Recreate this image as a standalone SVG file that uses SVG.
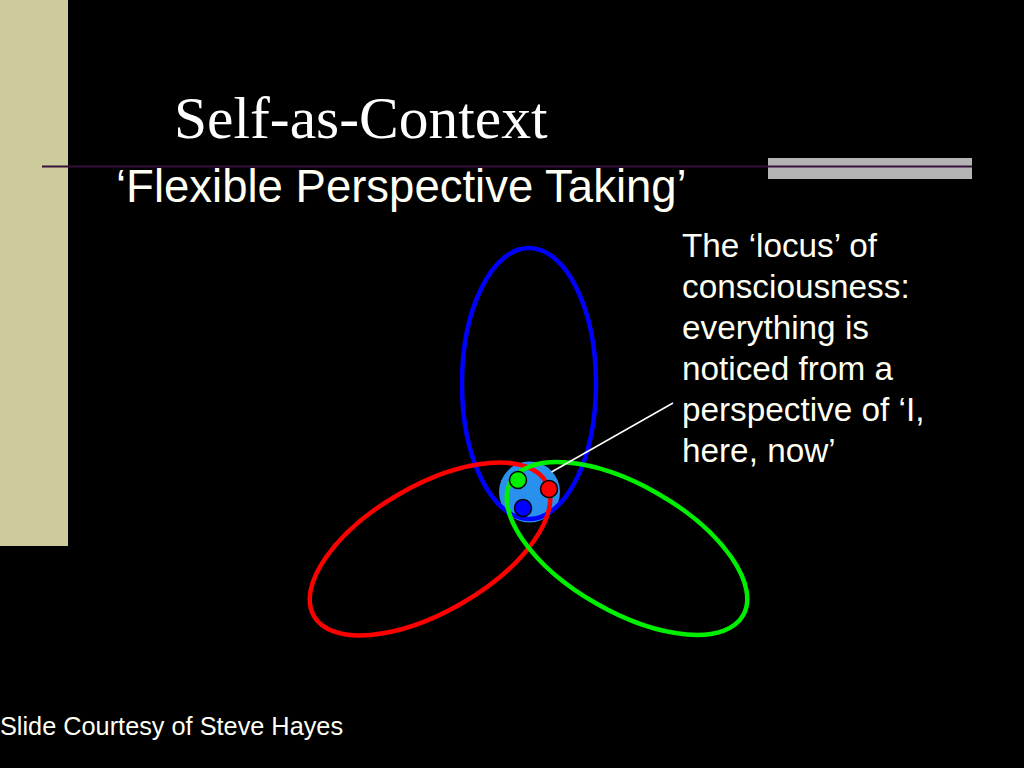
<svg xmlns="http://www.w3.org/2000/svg" width="1024" height="768" viewBox="0 0 1024 768">
<style>
.sans{font-family:"Liberation Sans",Arial,sans-serif;fill:#fffff4}
.serif{font-family:"Liberation Serif","Times New Roman",serif;fill:#ffffff}
.ell{fill:none;stroke-width:4.5}
.dot{stroke:#000;stroke-width:1.5}
</style>
<rect x="0" y="0" width="1024" height="768" fill="#000"/>
<g id="decor">
<rect x="0" y="0" width="68" height="546" fill="#cdcb9b"/>
<rect x="768" y="158" width="204" height="21" fill="#b4b4b4"/>
<line x1="42" y1="166.5" x2="972" y2="166.5" stroke="#35103a" stroke-width="2"/>
</g>
<g id="title">
<text class="serif" x="174" y="138" font-size="59.5">Self-as-Context</text>
</g>
<g id="subtitle">
<text class="sans" x="116" y="202" font-size="45.5">‘Flexible Perspective Taking’</text>
</g>
<g id="locus">
<circle cx="529.5" cy="492" r="30.5" fill="#2a90ee"/>
</g>
<g id="blue-ellipse">
<ellipse class="ell" cx="529" cy="383.5" rx="67" ry="135.5" stroke="#0000ff"/>
</g>
<g id="red-ellipse">
<ellipse class="ell" cx="430" cy="549" rx="134" ry="63" transform="rotate(-30 430 549)" stroke="#ff0000"/>
</g>
<g id="green-ellipse">
<ellipse class="ell" cx="627" cy="548.5" rx="134" ry="63" transform="rotate(30 627 548.5)" stroke="#00ee00"/>
</g>
<g id="connectors">
<line x1="673" y1="403" x2="551.5" y2="472" stroke="#ffffff" stroke-width="1.5"/>
</g>
<g id="dots">
<circle class="dot" cx="518" cy="480" r="8.5" fill="#00ee00"/>
<circle class="dot" cx="549" cy="489" r="8.5" fill="#ff0000"/>
<circle class="dot" cx="523" cy="508" r="8.5" fill="#0000ff"/>
</g>
<g id="caption">
<text class="sans" font-size="33.3">
<tspan x="682" y="257">The ‘locus’ of</tspan>
<tspan x="682" y="298">consciousness:</tspan>
<tspan x="682" y="339">everything is</tspan>
<tspan x="682" y="380">noticed from a</tspan>
<tspan x="682" y="421">perspective of ‘I,</tspan>
<tspan x="682" y="462">here, now’</tspan>
</text>
</g>
<g id="footer">
<text class="sans" x="0" y="735" font-size="25.3">Slide Courtesy of Steve Hayes</text>
</g>
</svg>
